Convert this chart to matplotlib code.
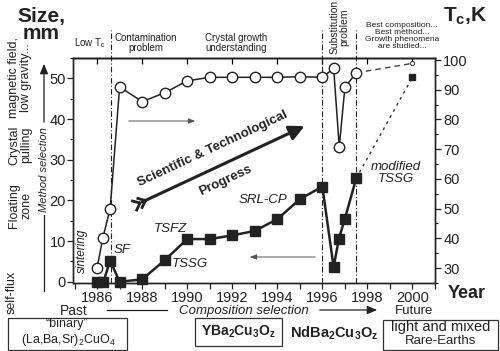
import matplotlib
matplotlib.use('Agg')
import matplotlib.pyplot as plt
from matplotlib.patches import FancyArrowPatch, Rectangle
from matplotlib.lines import Line2D
from matplotlib.ticker import MultipleLocator
import numpy as np

plt.rcParams['font.family'] = ['Liberation Sans', 'DejaVu Sans']
plt.rcParams['mathtext.fontset'] = 'custom'
plt.rcParams['mathtext.rm'] = 'Liberation Sans'
plt.rcParams['mathtext.it'] = 'Liberation Sans:italic'
plt.rcParams['mathtext.bf'] = 'Liberation Sans:bold'

# ---------------- data ----------------
tc_years = [1986.0, 1986.25, 1986.58, 1987.0, 1988, 1989, 1990, 1991, 1992,
            1993, 1994, 1995, 1996, 1996.5, 1996.75, 1997.0, 1997.5]
tc_values = [30, 40, 50, 91, 86, 89, 93, 94.2, 94.2, 94.2, 94.2, 94.4, 94.2,
             97.2, 70.8, 90.8, 95.7]
tc_future_years = [1997.5, 2000]
tc_future_values = [95.7, 98.9]

size_years = [1986.0, 1986.28, 1986.58, 1987.0, 1988, 1989, 1990, 1991, 1992,
              1993, 1994, 1995, 1996, 1996.5, 1996.73, 1997.0, 1997.5]
size_values = [0, 0, 5.2, 0, 0.6, 5.3, 10.5, 10.5, 11.4, 12.5, 15.4, 20.3, 23.4,
               3.6, 10.5, 15.5, 25.4]
size_future_years = [1997.5, 2000]
size_future_values = [25.4, 50.3]

phase_boundaries = [1986.62, 1996.0, 1997.5]
year_ticks = list(range(1986, 2001, 2))
size_ticks = [0, 10, 20, 30, 40, 50]
tc_ticks = [30, 40, 50, 60, 70, 80, 90, 100]

# ---------------- figure ----------------
W, H = 500, 351
fig = plt.figure(figsize=(W / 100, H / 100), dpi=100)


def P(x, y):
    return (x / W, 1 - y / H)


ax = fig.add_axes([73 / W, 1 - 283 / H, (435 - 73) / W, (283 - 58) / H])
ax2 = ax.twinx()

ax.set_xlim(1984.93, 2001.0)
ax.set_ylim(-0.3, 55)
ax2.set_ylim(24.95, 100.7)

for a in (ax, ax2):
    for s in a.spines.values():
        s.set_linewidth(1.0)
        s.set_color('#222')

ax.set_xticks(year_ticks)
ax.xaxis.set_minor_locator(MultipleLocator(1))
ax.set_yticks(size_ticks)
ax.yaxis.set_minor_locator(MultipleLocator(5))
ax2.set_yticks(tc_ticks)
ax2.yaxis.set_minor_locator(MultipleLocator(5))
ax.tick_params(axis='x', which='both', direction='out', length=4, width=0.9,
               labelsize=10.5, pad=2, colors='#222')
ax.tick_params(axis='y', which='major', direction='out', length=4, width=0.9,
               labelsize=10.5, pad=1, colors='#222')
ax.tick_params(axis='y', which='minor', direction='out', length=2.5, width=0.8)
ax2.tick_params(axis='y', which='major', direction='out', length=4, width=0.9,
                labelsize=10.5, pad=2, colors='#222')
ax2.tick_params(axis='y', which='minor', direction='out', length=2.5, width=0.8)

sec = ax.secondary_xaxis('top')
sec.set_xticks(year_ticks)
sec.set_xticklabels([])
sec.tick_params(direction='in', length=4, width=0.9)
sec.spines['top'].set_linewidth(1.0)

# phase boundaries (dash-dot), extend above axes
for xb in phase_boundaries:
    ax.plot([xb, xb], [0, 1.125], transform=ax.get_xaxis_transform(),
            clip_on=False, ls=(0, (5, 2, 1, 2)), color='#222', lw=0.8, zorder=1)

# size series (left axis)
ax.plot(size_years, size_values, '-s', color='#222', ms=6.5, lw=1.8,
        mfc='#222', mec='#222', clip_on=False, zorder=3)
ax.plot(size_future_years, size_future_values, ls=(0, (2, 3)), color='#333', lw=1.0)
ax.plot(size_future_years[-1:], size_future_values[-1:], 's', color='#222', ms=5)

# Tc series (right axis)
ax2.plot(tc_future_years, tc_future_values, ls=(0, (4, 3)), color='#444', lw=1.0, zorder=2)
ax2.plot(tc_future_years[-1:], tc_future_values[-1:], 'o', ms=3, mfc='white',
         mec='#444', mew=0.8)
ax2.plot(tc_years, tc_values, '-o', color='#222', ms=7.5, lw=1.1, mfc='white',
         mec='#222', mew=1.0, clip_on=False, zorder=3)

# ---------------- annotations ----------------
def ftext(x, y, s, **kw):
    kw.setdefault('ha', 'center')
    kw.setdefault('va', 'center')
    kw.setdefault('color', '#222')
    fig.text(*P(x, y), s, **kw)


ftext(82, 251, 'sintering', rotation=90, style='italic', fontsize=8.5)
ftext(122, 250, 'SF', style='italic', fontsize=9.5)
ftext(170, 229, 'TSFZ', style='italic', fontsize=9.5)
ftext(190, 264, 'TSSG', style='italic', fontsize=9.5)
ftext(263, 200, 'SRL-CP', style='italic', fontsize=9.5)
ftext(396, 173, 'modified\nTSSG', style='italic', fontsize=9.5, linespacing=1.0)

# big progress arrow
tail, head = np.array([140.0, 203.0]), np.array([307.0, 125.0])
fig.add_artist(FancyArrowPatch(P(*tail), P(*head), transform=fig.transFigure,
                               arrowstyle='-|>,head_length=0.9,head_width=0.45',
                               mutation_scale=10, lw=2.2, color='#222'))
u = (head - tail) / np.linalg.norm(head - tail)
n = np.array([u[1], -u[0]])
for k in (0, 6):
    v = tail + k * u
    for sgn in (1, -1):
        a = v - 6 * u + sgn * 5 * n
        fig.add_artist(Line2D([a[0] / W, v[0] / W], [1 - a[1] / H, 1 - v[1] / H],
                              transform=fig.transFigure, color='#222', lw=2.0))
ang = np.degrees(np.arctan2(tail[1] - head[1], head[0] - tail[0]))
ftext(213, 149, 'Scientific & Technological', rotation=ang, fontsize=9.5,
      fontweight='bold', rotation_mode='anchor')
ftext(225, 181, 'Progress', rotation=ang, fontsize=9.5, fontweight='bold',
      rotation_mode='anchor')

# thin arrows
fig.add_artist(FancyArrowPatch(P(126, 121), P(198, 121), transform=fig.transFigure,
                               arrowstyle='-|>,head_length=0.5,head_width=0.2',
                               mutation_scale=8, lw=0.7, color='#555'))
fig.add_artist(FancyArrowPatch(P(318, 257), P(247, 257), transform=fig.transFigure,
                               arrowstyle='-|>,head_length=0.5,head_width=0.2',
                               mutation_scale=8, lw=0.7, color='#555'))

# header texts
ftext(90, 43, r'Low T$_\mathregular{c}$', fontsize=7)
ftext(146, 43, 'Contamination\nproblem', fontsize=7, linespacing=1.1)
ftext(236, 43, 'Crystal growth\nunderstanding', fontsize=7, linespacing=1.1)
ftext(339, 27, 'Substitution\nproblem', rotation=90, fontsize=7.5, linespacing=0.95)
ftext(402, 36, 'Best composition...\nBest method...\nGrowth phenomena\nare studied...',
      fontsize=6, linespacing=0.95)

ftext(41, 25, 'Size,\nmm', fontsize=15, fontweight='bold', linespacing=0.85)
ftext(465, 16, r'$\mathbf{T_c}$,K', fontsize=15, fontweight='bold')
ftext(467, 294, 'Year', fontsize=13, fontweight='bold')

# left method labels
ftext(12, 292, 'self-flux', rotation=90, fontsize=9)
ftext(20, 206, 'Floating\nzone', rotation=90, fontsize=9, linespacing=1.0)
ftext(20, 145, 'Crystal\npulling', rotation=90, fontsize=9, linespacing=1.0)
ftext(20, 78, 'magnetic field,\nlow gravity...', rotation=90, fontsize=9,
      linespacing=1.0)
ftext(44, 170, 'Method selection', rotation=90, fontsize=8, style='italic')
fig.add_artist(Line2D([44 / W, 44 / W], [1 - 291 / H, 1 - 215 / H],
                      transform=fig.transFigure, color='#222', lw=0.9))
fig.add_artist(FancyArrowPatch(P(44, 125), P(44, 61), transform=fig.transFigure,
                               arrowstyle='-|>,head_length=0.6,head_width=0.25',
                               mutation_scale=10, lw=0.9, color='#222'))

# bottom composition selection
ftext(74, 311, 'Past', fontsize=10)
fig.add_artist(Line2D([107 / W, 167 / W], [1 - 310 / H, 1 - 310 / H],
                      transform=fig.transFigure, color='#222', lw=0.9))
ftext(244, 311, 'Composition selection', fontsize=9.5, style='italic')
fig.add_artist(FancyArrowPatch(P(317, 310), P(380, 310), transform=fig.transFigure,
                               arrowstyle='-|>,head_length=0.6,head_width=0.25',
                               mutation_scale=10, lw=0.9, color='#222'))
ftext(414, 311, 'Future', fontsize=9.5)

# bottom boxes
for (x0, y0, x1, y1) in [(8, 318, 127, 350), (195, 318, 282, 346), (383, 320, 498, 350)]:
    fig.add_artist(Rectangle(P(x0, y1), (x1 - x0) / W, (y1 - y0) / H,
                             transform=fig.transFigure, fill=False, ec='#333', lw=0.9))
ftext(67, 324, '\u201cbinary\u201d', fontsize=9)
ftext(68, 340, r'(La,Ba,Sr)$_2$CuO$_4$', fontsize=9)
ftext(238, 332, r'$\mathbf{YBa_2Cu_3O_z}$', fontsize=10)
ftext(334, 333, r'$\mathbf{NdBa_2Cu_3O_z}$', fontsize=10.5)
ftext(441, 327, 'light and mixed', fontsize=10.5)
ftext(441, 341, 'Rare-Earths', fontsize=9.5)

fig.savefig('out.png', dpi=100)
